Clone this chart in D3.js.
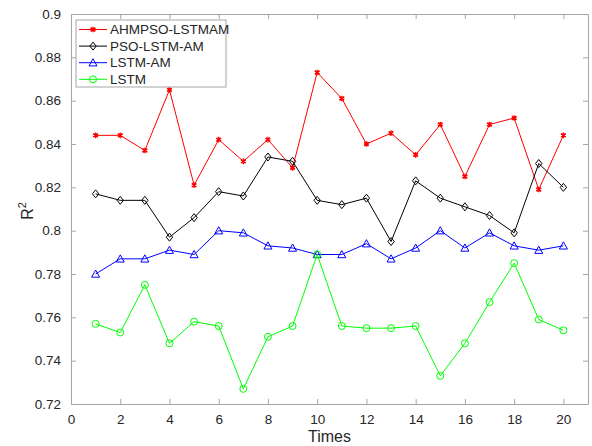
<!DOCTYPE html>
<html lang="en">
<head>
<meta charset="UTF-8">
<title>R2 comparison</title>
<script src="https://d3js.org/d3.v7.min.js"></script>
<style>
    body { margin: 0; background: #fff; }
    text { font-family: "Liberation Sans", Arial, sans-serif; fill: #262626; }
    .tick text { font-size: 13.5px; }
</style>
</head>
<body>
<svg id="chart" width="592" height="446"></svg>
<script>
// data
const times = d3.range(1, 21);
const ahmpso = [0.844, 0.844, 0.837, 0.865, 0.821, 0.842, 0.832, 0.842, 0.829, 0.873,
                0.861, 0.840, 0.845, 0.835, 0.849, 0.825, 0.849, 0.852, 0.819, 0.844];
const psoLstmAm = [0.817, 0.814, 0.814, 0.797, 0.806, 0.818, 0.816, 0.834, 0.832, 0.814,
                   0.812, 0.815, 0.795, 0.823, 0.815, 0.811, 0.807, 0.799, 0.831, 0.820];
const lstmAm = [0.780, 0.787, 0.787, 0.791, 0.789, 0.800, 0.799, 0.793, 0.792, 0.789,
                0.789, 0.794, 0.787, 0.792, 0.800, 0.792, 0.799, 0.793, 0.791, 0.793];
const lstm = [0.757, 0.753, 0.775, 0.748, 0.758, 0.756, 0.727, 0.751, 0.756, 0.789,
              0.756, 0.755, 0.755, 0.756, 0.733, 0.748, 0.767, 0.785, 0.759, 0.754];
const seriesNames = ["AHMPSO-LSTMAM", "PSO-LSTM-AM", "LSTM-AM", "LSTM"];
const xTicks = [0, 2, 4, 6, 8, 10, 12, 14, 16, 18, 20];
const yTicks = [0.72, 0.74, 0.76, 0.78, 0.8, 0.82, 0.84, 0.86, 0.88, 0.9];

const series = [
    {name: seriesNames[0], values: ahmpso, color: "#ff0000", marker: "star"},
    {name: seriesNames[1], values: psoLstmAm, color: "#000000", marker: "diamond"},
    {name: seriesNames[2], values: lstmAm, color: "#0000ff", marker: "triangle"},
    {name: seriesNames[3], values: lstm, color: "#00ff00", marker: "circle"}
];

const svg = d3.select("#chart");
const margin = {top: 14, right: 4, bottom: 42, left: 71};
const width = 592 - margin.left - margin.right,
      height = 446 - margin.top - margin.bottom;
const g = svg.append("g").attr("transform", `translate(${margin.left},${margin.top})`);

const x = d3.scaleLinear().domain([0, 21]).range([0, width]);
const y = d3.scaleLinear().domain([0.72, 0.9]).range([height, 0]);

const fmt = d => d3.format("")(+d.toFixed(2));

// axes with inward ticks, box on
g.append("g").attr("class", "axis").attr("transform", `translate(0,${height})`)
    .call(d3.axisBottom(x).tickValues(xTicks).tickSizeInner(-5).tickSizeOuter(0).tickPadding(10));
g.append("g").attr("class", "axis")
    .call(d3.axisTop(x).tickValues(xTicks).tickSizeInner(-5).tickSizeOuter(0).tickFormat(""));
g.append("g").attr("class", "axis")
    .call(d3.axisLeft(y).tickValues(yTicks).tickSizeInner(-5).tickSizeOuter(0).tickPadding(10).tickFormat(fmt));
g.append("g").attr("class", "axis").attr("transform", `translate(${width},0)`)
    .call(d3.axisRight(y).tickValues(yTicks).tickSizeInner(-5).tickSizeOuter(0).tickFormat(""));
g.selectAll(".axis path, .axis line").attr("stroke", "#a6a6a6");

// axis labels
svg.append("text").attr("x", margin.left + x(10.5)).attr("y", 442)
    .attr("text-anchor", "middle").style("font-size", "16px").text("Times");
const yl = svg.append("text").attr("transform", `translate(33,${margin.top + height / 2 + 2}) rotate(-90)`)
    .attr("text-anchor", "middle").style("font-size", "16px");
yl.append("tspan").text("R");
yl.append("tspan").attr("dy", -7).style("font-size", "11px").text("2");

function drawMarker(sel, type, color) {
    if (type === "star") {
        sel.append("path").attr("d", d3.symbol(d3.symbolAsterisk, 22)())
            .attr("stroke", color).attr("stroke-width", 1.3).attr("fill", "none");
        sel.append("path").attr("d", d3.symbol(d3.symbolTimes, 12)())
            .attr("stroke", color).attr("stroke-width", 1.3).attr("fill", "none");
    } else if (type === "diamond") {
        sel.append("path").attr("d", "M0,-4L3.2,0L0,4L-3.2,0Z")
            .attr("stroke", color).attr("fill", "none").attr("stroke-width", 1);
    } else if (type === "triangle") {
        sel.append("path").attr("d", "M0,-4L4,3.2L-4,3.2Z")
            .attr("stroke", color).attr("fill", "none").attr("stroke-width", 1);
    } else {
        sel.append("circle").attr("r", 3.5)
            .attr("stroke", color).attr("fill", "none").attr("stroke-width", 1);
    }
}

const line = d3.line().x((d, i) => x(times[i])).y(d => y(d));
series.forEach(s => {
    g.append("path").datum(s.values).attr("d", line)
        .attr("fill", "none").attr("stroke", s.color).attr("stroke-width", 1);
    s.values.forEach((v, i) => {
        const m = g.append("g").attr("transform", `translate(${x(times[i])},${y(v)})`);
        drawMarker(m, s.marker, s.color);
    });
});

// legend
const lg = svg.append("g").attr("transform", "translate(76,20)");
lg.append("rect").attr("width", 150).attr("height", 67)
    .attr("fill", "#fff").attr("stroke", "#a6a6a6").attr("stroke-width", 1);
series.forEach((s, i) => {
    const row = lg.append("g").attr("transform", `translate(0,${9.5 + i * 16.6})`);
    row.append("line").attr("x1", 3).attr("x2", 31).attr("stroke", s.color).attr("stroke-width", 1);
    const m = row.append("g").attr("transform", "translate(17,0)");
    drawMarker(m, s.marker, s.color);
    row.append("text").attr("x", 34).attr("dy", "0.35em").style("font-size", "13.5px").text(s.name);
});
</script>
</body>
</html>
